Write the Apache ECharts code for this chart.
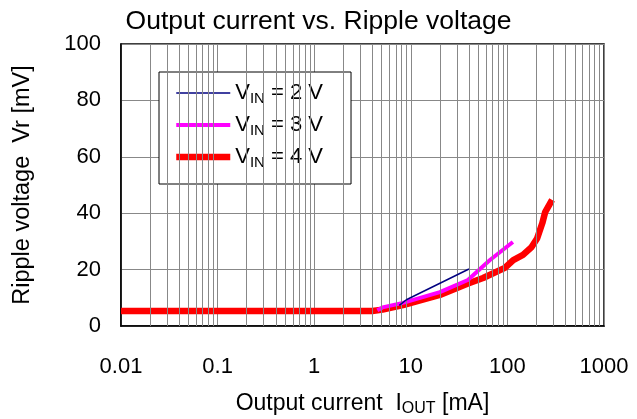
<!DOCTYPE html>
<html>
<head>
<meta charset="utf-8">
<script src="https://cdn.jsdelivr.net/npm/echarts@6/dist/echarts.min.js"></script>
<style>
  html, body { margin: 0; padding: 0; background: #fff; }
  #chart { width: 637px; height: 419px; }
</style>
</head>
<body>
<div id="chart"></div>
<script>
// output current [mA] vs ripple voltage [mV]
const vin2Current = [7.6, 9, 40]
const vin2Ripple = [7.3, 9.3, 20.2]
const vin3Current = [4.5, 5.1, 8.3, 20, 39, 66, 114]
const vin3Ripple = [5.6, 6.6, 8.2, 12, 16.3, 23.4, 29.8]
const vin4Current = [0.01, 4, 5.1, 8.3, 20, 38, 56, 94, 115, 145, 178, 203, 230, 246, 290]
const vin4Ripple = [5.3, 5.3, 5.8, 7.4, 11, 14.9, 17, 20.6, 23.4, 25.2, 28, 31, 36.5, 40.4, 44.7]

const decades = [0.01, 0.1, 1, 10, 100]
const minorSteps = [2, 3, 4, 5, 6, 7, 8, 9]
const seriesNames = ['VIN = 2 V', 'VIN = 3 V', 'VIN = 4 V']
const legendLabels = ['{v|V}{s|IN}{v| = 2 V}', '{v|V}{s|IN}{v| = 3 V}', '{v|V}{s|IN}{v| = 4 V}']

const font = 'Liberation Sans, Arial, sans-serif'

function pairs(xs, ys) {
  return xs.map((x, i) => [x, ys[i]])
}

// minor vertical grid lines at 2..9 of every decade (log axis minor ticks are not placed there)
const minorLines = []
decades.forEach(d => {
  minorSteps.forEach(m => {
    minorLines.push({ xAxis: Number((d * m).toPrecision(6)) })
  })
})

const legendRich = {
  v: { fontSize: 22, color: '#000', fontFamily: font, lineHeight: 26 },
  s: { fontSize: 15, color: '#000', fontFamily: font, lineHeight: 12, verticalAlign: 'bottom' }
}
const nameRich = {
  v: { fontSize: 23, color: '#000', fontFamily: font, lineHeight: 27 },
  s: { fontSize: 16, color: '#000', fontFamily: font, lineHeight: 12, verticalAlign: 'bottom' }
}

const chart = echarts.init(document.getElementById('chart'), null, { renderer: 'canvas' })

chart.setOption({
  animation: false,
  backgroundColor: '#fff',
  title: {
    text: 'Output current vs. Ripple voltage',
    left: 'center',
    top: 3,
    textStyle: { fontSize: 26.5, fontWeight: 'normal', color: '#000', fontFamily: font }
  },
  grid: {
    left: 121,
    right: 33,
    top: 44,
    bottom: 93,
    outerBoundsMode: 'none',
    show: true,
    borderColor: '#000',
    borderWidth: 1.5
  },
  legend: {
    data: seriesNames,
    orient: 'vertical',
    left: 159,
    top: 72,
    itemWidth: 54,
    itemHeight: 14,
    itemGap: 8,
    padding: [10, 28, 14, 14],
    borderColor: '#000',
    borderWidth: 1,
    backgroundColor: '#fff',
    lineStyle: { width: 'inherit' },
    itemStyle: { opacity: 0, color: 'transparent', borderWidth: 0 },
    formatter: name => legendLabels[seriesNames.indexOf(name)],
    textStyle: { rich: legendRich }
  },
  xAxis: {
    type: 'log',
    logBase: 10,
    min: 0.01,
    max: 1000,
    name: '{v|Output current  I}{s|OUT}{v| [mA]}',
    nameLocation: 'middle',
    nameGap: 64,
    nameTextStyle: { rich: nameRich },
    axisLine: { lineStyle: { color: '#000', width: 1.5 } },
    axisTick: { show: false },
    axisLabel: {
      fontSize: 22,
      color: '#000',
      fontFamily: font,
      margin: 30,
      formatter: v => String(Number(v.toPrecision(6)))
    },
    splitLine: { show: true, lineStyle: { color: '#888', width: 1 } }
  },
  yAxis: {
    type: 'value',
    min: 0,
    max: 100,
    interval: 20,
    name: 'Ripple voltage  Vr [mV]',
    nameLocation: 'middle',
    nameGap: 86,
    nameTextStyle: { fontSize: 23.5, color: '#000', fontFamily: font },
    axisLine: { show: true, lineStyle: { color: '#000', width: 1.5 } },
    axisTick: { show: false },
    axisLabel: { fontSize: 22, color: '#000', fontFamily: font, margin: 20 },
    splitLine: { show: true, lineStyle: { color: '#888', width: 1 } }
  },
  series: [
    {
      name: 'minor grid',
      type: 'line',
      data: [],
      z: 1,
      silent: true,
      markLine: {
        silent: true,
        symbol: ['none', 'none'],
        label: { show: false },
        lineStyle: { color: '#888', width: 1, type: 'solid' },
        data: minorLines
      }
    },
    {
      name: seriesNames[2],
      type: 'line',
      data: pairs(vin4Current, vin4Ripple),
      showSymbol: false,
      symbol: 'none',
      z: 3,
      lineStyle: { color: '#ff0000', width: 6.5 },
      itemStyle: { color: '#ff0000' }
    },
    {
      name: seriesNames[1],
      type: 'line',
      data: pairs(vin3Current, vin3Ripple),
      showSymbol: false,
      symbol: 'none',
      z: 4,
      lineStyle: { color: '#ff00ff', width: 4 },
      itemStyle: { color: '#ff00ff' }
    },
    {
      name: seriesNames[0],
      type: 'line',
      data: pairs(vin2Current, vin2Ripple),
      showSymbol: false,
      symbol: 'none',
      z: 5,
      lineStyle: { color: '#000080', width: 1.5 },
      itemStyle: { color: '#000080' }
    }
  ]
})
</script>
</body>
</html>
